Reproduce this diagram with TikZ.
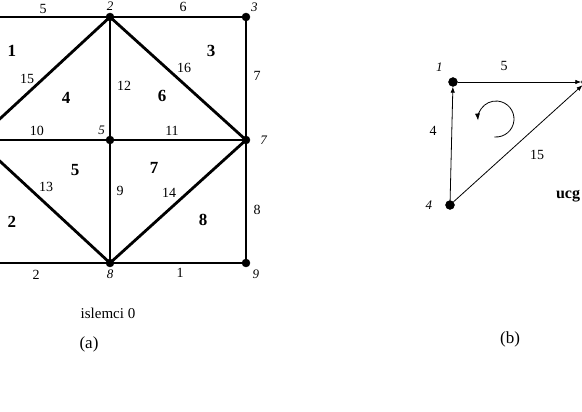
\documentclass[tikz,border=0pt]{standalone}
\usepackage{fontspec}
\setmainfont{Liberation Serif}
\usepackage{tikz}
\usetikzlibrary{positioning}
\usetikzlibrary{arrows.meta}
\tikzstyle{vertex} = [draw, fill=black, circle, inner sep=0pt, minimum size=8pt]
\tikzstyle{dot} = [draw, fill=black, circle, inner sep=0pt, minimum size=9pt]
\tikzstyle{edgenum} = [inner sep=0pt, font=\fontsize{14}{16}\selectfont]
\tikzstyle{facenum} = [inner sep=0pt, font=\fontsize{17}{19}\selectfont\bfseries]
\tikzstyle{vname} = [inner sep=2pt, font=\fontsize{13}{15}\selectfont\itshape]
\tikzstyle{caption} = [inner sep=0pt, font=\fontsize{17}{19}\selectfont]

\begin{document}
\begin{tikzpicture}[x=1pt,y=1pt,every label/.style=vname]
                        \useasboundingbox (0,0) rectangle (582,412);
                        \clip (0,0) rectangle (582,412);

                        \node[vertex](m1) at (-23,395) {};
                        \node[vertex, label=above:2](m2) at (110,395) {};
                        \node[vertex, label=above right:3](m3) at (246,395) {};
                        \node[vertex](m4) at (-23,272) {};
                        \node[vertex, label=above left:5](m5) at (110,272) {};
                        \node[vertex, label={[label distance=8pt]right:7}](m7) at (246,272) {};
                        \node[vertex](m6) at (-23,149) {};
                        \node[vertex, label=below:8](m8) at (110,149) {};
                        \node[vertex, label={[label distance=2pt]below right:9}](m9) at (246,149) {};

                        \draw[-,line width=2.8pt](m1.center) -- (m2.center);
                        \draw[-,line width=2.8pt](m2.center) -- (m3.center);
                        \draw[-,line width=2.8pt](m3.center) -- (m7.center);
                        \draw[-,line width=2.8pt](m7.center) -- (m9.center);
                        \draw[-,line width=2.8pt](m9.center) -- (m8.center);
                        \draw[-,line width=2.8pt](m8.center) -- (m6.center);
                        \draw[-,line width=2.8pt](m4.center) -- (m5.center);
                        \draw[-,line width=2.8pt](m5.center) -- (m7.center);
                        \draw[-,line width=2.8pt](m2.center) -- (m5.center);
                        \draw[-,line width=2.8pt](m5.center) -- (m8.center);
                        \draw[-,line width=2.8pt](m4.center) -- (m8.center);
                        \draw[-,line width=2.8pt](m8.center) -- (m7.center);
                        \draw[-,line width=2.8pt](m4.center) -- (m2.center);
                        \draw[-,line width=2.8pt](m2.center) -- (m7.center);

                        \node[edgenum] at (43,403) {5};
                        \node[edgenum] at (183,405) {6};
                        \node[edgenum] at (257,336) {7};
                        \node[edgenum] at (257,202) {8};
                        \node[edgenum] at (180,139) {1};
                        \node[edgenum] at (36,137) {2};
                        \node[edgenum] at (37,281) {10};
                        \node[edgenum] at (172,281) {11};
                        \node[edgenum] at (124,326) {12};
                        \node[edgenum] at (120,221) {9};
                        \node[edgenum] at (46,225) {13};
                        \node[edgenum] at (169,219) {14};
                        \node[edgenum] at (27,333) {15};
                        \node[edgenum] at (184,344) {16};

                        \node[facenum] at (12,361) {1};
                        \node[facenum] at (66,314) {4};
                        \node[facenum] at (162,316) {6};
                        \node[facenum] at (211,361) {3};
                        \node[facenum] at (75,242) {5};
                        \node[facenum] at (154,244) {7};
                        \node[facenum] at (203,192) {8};
                        \node[facenum] at (12,190) {2};

                        \node[inner sep=0pt, font=\fontsize{15}{17}\selectfont] at (108,99) {islemci 0};
                        \node[caption] at (89,68) {(a)};

                        \node[dot, label={[label distance=7pt]above left:1}](t1) at (453,330) {};
                        \node[dot](t2) at (586,330) {};
                        \node[dot, label={[label distance=11pt]left:4}](t4) at (450,207) {};

                        \draw[-{Latex[length=6pt,width=4.5pt]},line width=0.8pt](t4) -- (t1);
                        \draw[-{Latex[length=6pt,width=4.5pt]},line width=0.8pt](t1) -- (t2);
                        \draw[-{Latex[length=6pt,width=4.5pt]},line width=0.8pt](t4) -- (t2);

                        \coordinate (spin) at (496,293);
                        \draw[-{Latex[length=7pt,width=5pt]},line width=0.8pt](spin) ++(-95:18) arc (-95:185:18);

                        \node[edgenum] at (504,346) {5};
                        \node[edgenum] at (433,281) {4};
                        \node[edgenum] at (537,257) {15};
                        \node[inner sep=0pt, font=\fontsize{16}{18}\selectfont\bfseries] at (568,216) {ucg};
                        \node[caption] at (510,73) {(b)};
                    \end{tikzpicture}
\end{document}
